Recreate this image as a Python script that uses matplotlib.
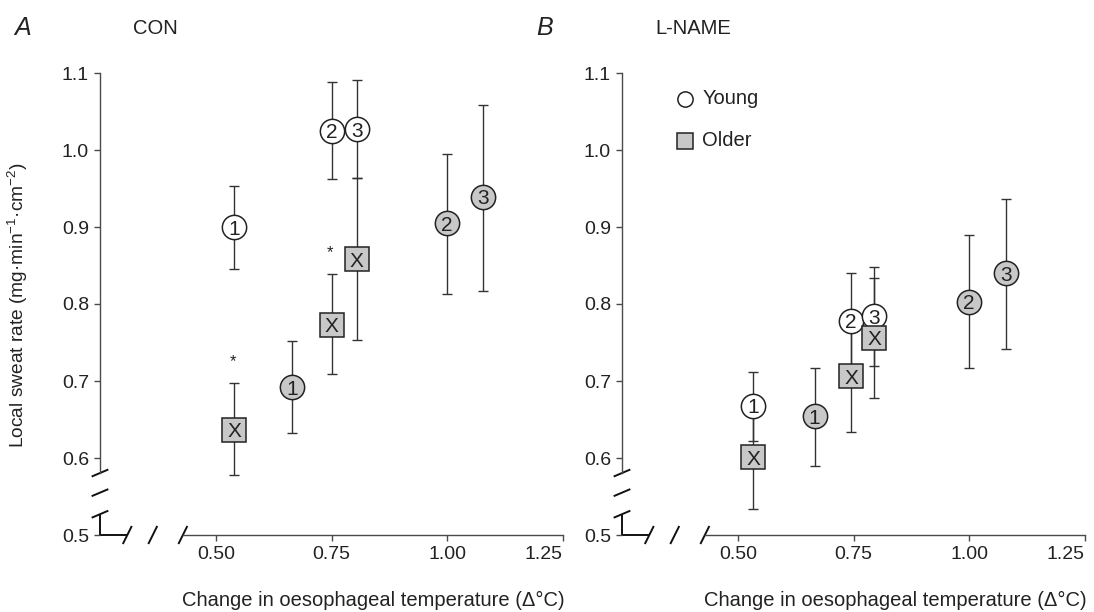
import numpy as np
import matplotlib
matplotlib.use("Agg")
import matplotlib.pyplot as plt

plt.rcParams["font.family"] = ["Liberation Sans", "DejaVu Sans"]
plt.rcParams["mathtext.fontset"] = "custom"
plt.rcParams["mathtext.rm"] = "Liberation Sans"
plt.rcParams["mathtext.it"] = "Liberation Sans:italic"

# ---- data ----
# panel A: CON
A_young_x = [0.54, 0.75, 0.805]
A_young_y = [0.900, 1.025, 1.027]
A_young_lo = [0.846, 0.962, 0.964]
A_young_hi = [0.953, 1.088, 1.091]
A_oldc_x = [0.665, 1.00, 1.078]
A_oldc_y = [0.692, 0.905, 0.939]
A_oldc_lo = [0.632, 0.813, 0.817]
A_oldc_hi = [0.752, 0.995, 1.058]
A_olds_x = [0.54, 0.75, 0.805]
A_olds_y = [0.637, 0.773, 0.858]
A_olds_lo = [0.578, 0.709, 0.753]
A_olds_hi = [0.697, 0.839, 0.963]
A_sig = [True, True, False]   # asterisk above older X

# panel B: L-NAME
B_young_x = [0.534, 0.745, 0.795]
B_young_y = [0.668, 0.778, 0.784]
B_young_lo = [0.622, 0.716, 0.719]
B_young_hi = [0.712, 0.840, 0.848]
B_oldc_x = [0.666, 1.00, 1.08]
B_oldc_y = [0.654, 0.803, 0.840]
B_oldc_lo = [0.590, 0.717, 0.742]
B_oldc_hi = [0.717, 0.889, 0.936]
B_olds_x = [0.534, 0.745, 0.795]
B_olds_y = [0.601, 0.706, 0.756]
B_olds_lo = [0.534, 0.634, 0.678]
B_olds_hi = [0.668, 0.778, 0.834]
B_sig = [False, False, False]

circ_labels = ["1", "2", "3"]
xticks = [0.50, 0.75, 1.00, 1.25]
xticklabels = ["0.50", "0.75", "1.00", "1.25"]
yticks = [0.5, 0.6, 0.7, 0.8, 0.9, 1.0, 1.1]
yticklabels = ["0.5", "0.6", "0.7", "0.8", "0.9", "1.0", "1.1"]

INK = "#222222"
AX = "#4a4a4a"
GREY = "#c8c8c8"

fig = plt.figure(figsize=(10.94, 6.12), dpi=100)
axA = fig.add_axes([100/1094, 77/612, 463/1094, 462/612])
axB = fig.add_axes([622/1094, 77/612, 463/1094, 462/612])


def ebar(ax, x, y, lo, hi):
    y = np.array(y); lo = np.array(lo); hi = np.array(hi)
    ax.errorbar(x, y, yerr=[y-lo, hi-y], fmt="none", ecolor="#333333",
                elinewidth=1.0, capsize=3.5, capthick=1.0, zorder=2)


def marks(ax, x, y, marker, fc, labels, z):
    ax.plot(x, y, marker, ls="none", ms=17.5, mfc=fc, mec=INK, mew=1.1, zorder=z)
    for xi, yi, t in zip(x, y, labels):
        ax.text(xi, yi, t, ha="center", va="center_baseline", fontsize=15,
                color=INK, zorder=z+0.5)


def panel(ax, d):
    yx, yy, ylo, yhi, cx, cy, clo, chi, sx, sy, slo, shi, sig = d
    ebar(ax, yx, yy, ylo, yhi)
    ebar(ax, cx, cy, clo, chi)
    ebar(ax, sx, sy, slo, shi)
    marks(ax, yx, yy, "o", "white", circ_labels, 4)
    marks(ax, cx, cy, "o", GREY, circ_labels, 5)
    marks(ax, sx, sy, "s", GREY, ["X"]*len(sx), 6)
    for xi, hi, s in zip(sx, shi, sig):
        if s:
            ax.annotate("*", (xi, hi), xytext=(-1, 10), textcoords="offset points",
                        ha="center", va="bottom", fontsize=12, color=INK)

    ax.set_xlim(0.25, 1.25)
    ax.set_ylim(0.5, 1.1)
    ax.set_xticks(xticks, xticklabels)
    ax.set_yticks(yticks, yticklabels)
    ax.get_xticklabels()[-1].set_horizontalalignment("right")
    ax.tick_params(direction="out", length=4, width=1, color=AX, labelsize=14,
                   labelcolor=INK)
    ax.tick_params(axis="y", pad=4)
    ax.tick_params(axis="x", pad=4)
    for s in ["top", "right"]:
        ax.spines[s].set_visible(False)
    for s in ["left", "bottom"]:
        ax.spines[s].set_color(AX)
        ax.spines[s].set_linewidth(1)
    # broken axes
    ax.spines["left"].set_bounds(0.5805, 1.1)
    ax.spines["bottom"].set_bounds(0.429, 1.25)
    kw = dict(color="#111111", lw=1.4, clip_on=False, solid_capstyle="butt", zorder=1)
    ax.plot([0.25, 0.25], [0.5, 0.527], **kw)
    ax.plot([0.25, 0.309], [0.5, 0.5], **kw)
    for yc in [0.5805, 0.555, 0.527]:
        ax.plot([0.25-0.018, 0.25+0.018], [yc-0.0046, yc+0.0046], **kw)
    for xc in [0.309, 0.364, 0.429]:
        ax.plot([xc-0.0097, xc+0.0097], [0.5-0.0117, 0.5+0.0117], **kw)
    ax.set_xlabel("Change in oesophageal temperature (Δ°C)", fontsize=14.5, color=INK)
    ax.xaxis.set_label_coords(0.59, -0.122)


panel(axA, (A_young_x, A_young_y, A_young_lo, A_young_hi, A_oldc_x, A_oldc_y,
            A_oldc_lo, A_oldc_hi, A_olds_x, A_olds_y, A_olds_lo, A_olds_hi, A_sig))
panel(axB, (B_young_x, B_young_y, B_young_lo, B_young_hi, B_oldc_x, B_oldc_y,
            B_oldc_lo, B_oldc_hi, B_olds_x, B_olds_y, B_olds_lo, B_olds_hi, B_sig))

fig.text(18/1094, 1-305/612, r"Local sweat rate (mg·min$^{-1}$·cm$^{-2}$)",
         rotation=90, ha="center", va="center", fontsize=13.8, color=INK)

fig.text(23/1094, 1-28/612, "A", style="italic", fontsize=18, ha="center", va="center", color=INK)
fig.text(133/1094, 1-28/612, "CON", fontsize=14.5, ha="left", va="center", color=INK)
fig.text(545/1094, 1-28/612, "B", style="italic", fontsize=18, ha="center", va="center", color=INK)
fig.text(655/1094, 1-28/612, "L-NAME", fontsize=14.5, ha="left", va="center", color=INK)

# legend in panel B
axB.plot([0.136], [0.944], "o", ms=11, mfc="white", mec=INK, mew=1.1,
         transform=axB.transAxes, clip_on=False)
axB.plot([0.136], [0.853], "s", ms=11, mfc=GREY, mec=INK, mew=1.1,
         transform=axB.transAxes, clip_on=False)
axB.text(0.173, 0.944, "Young", transform=axB.transAxes, fontsize=14.5,
         va="center", ha="left", color=INK)
axB.text(0.173, 0.853, "Older", transform=axB.transAxes, fontsize=14.5,
         va="center", ha="left", color=INK)

fig.savefig("out.png", dpi=100)
